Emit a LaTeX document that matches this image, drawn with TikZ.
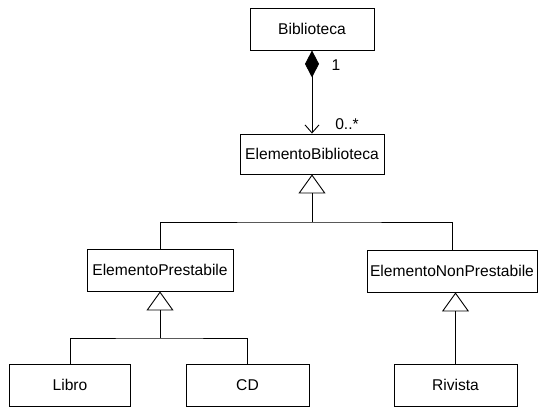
\documentclass[tikz,border=0pt]{standalone}
\usepackage{fontspec}
\setmainfont{Liberation Sans}
\usetikzlibrary{arrows.meta}
\begin{document}
\begin{tikzpicture}[x=1pt,y=-1pt,
  cls/.style={draw,line width=0.9pt,inner sep=0pt,font=\fontsize{15.6}{18}\selectfont,minimum height=42pt},
  conn/.style={line width=0.9pt},
  gen/.style={conn,-{Triangle[open,length=19pt,width=27pt,line width=0.9pt]}},
  lbl/.style={font=\fontsize{15.6}{18}\selectfont,inner sep=0pt}]
\useasboundingbox (0,0) rectangle (540,407);
\node[cls,minimum width=124pt] (bib) at (312,29) {Biblioteca};
\node[cls,minimum width=144pt,minimum height=40pt] (eb) at (312,154) {ElementoBiblioteca};
\node[cls,minimum width=146pt] (ep) at (160,270) {ElementoPrestabile};
\node[cls,minimum width=170pt] (enp) at (452,271) {ElementoNonPrestabile};
\node[cls,minimum width=121pt] (libro) at (70,385) {Libro};
\node[cls,minimum width=123pt] (cd) at (247.5,385) {CD};
\node[cls,minimum width=123pt] (riv) at (455.5,385) {Rivista};
\draw[conn,{Diamond[fill=black,length=27pt,width=14pt]}-{Straight Barb[length=8pt,width=14pt,line width=0.9pt]}] (bib.south) -- (eb.north);
\node[lbl] (one) at (336,65) {1};
\node[lbl] (many) at (347,124) {0..*};
\coordinate (j1) at (312,222);
\draw[conn] (ep.north) |- (j1) -| (enp.north);
\draw[gen] (j1) -- (eb.south);
\coordinate (j2) at (160,338);
\draw[conn] (libro.north) |- (j2) -| (cd.north);
\draw[gen] (j2) -- (ep.south);
\draw[gen] (riv.north) -- (riv.north |- enp.south);
\end{tikzpicture}
\end{document}
